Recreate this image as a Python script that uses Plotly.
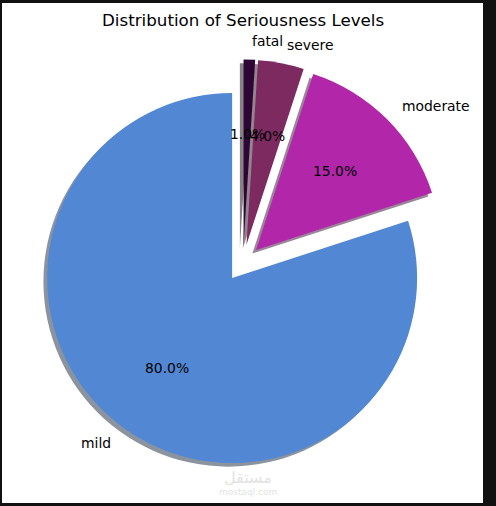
import math
import plotly.graph_objects as go

# ---- data ----
labels = ["mild", "moderate", "severe", "fatal"]
values = [80, 15, 4, 1]
colors = ["#5287d4", "#b226aa", "#7d2a60", "#2e0636"]
explode = [0.1, 0.1, 0.1, 0.1]
title = "Distribution of Seriousness Levels"

# ---- layout geometry (pixels) ----
W, H = 496, 506
CX, CY = 243, 263          # pie centre
R = 185                    # pie radius
SHADOW = 3.7               # shadow offset (left / down)
box = 2 * R * (1 + max(explode))
# first slice starts at 12 o'clock going counter-clockwise (matplotlib startangle=90);
# in ccw mode plotly places the first slice clockwise of `rotation`
ROTATION = 360 - 360 * values[0] / sum(values)


def domain(dx=0.0, dy=0.0):
    return dict(
        x=[(CX + dx - box / 2) / W, (CX + dx + box / 2) / W],
        y=[1 - (CY + dy + box / 2) / H, 1 - (CY + dy - box / 2) / H],
    )


def hex_to_rgb(h):
    h = h.lstrip("#")
    return tuple(int(h[i:i + 2], 16) for i in (0, 2, 4))


shadow_colors = [
    "rgba(%d,%d,%d,0.5)" % tuple(int(c * 0.3) for c in hex_to_rgb(col))
    for col in colors
]

fig = go.Figure()
fig.add_trace(go.Pie(
    labels=labels, values=values, sort=False, direction="counterclockwise",
    rotation=ROTATION, pull=explode, domain=domain(-SHADOW, SHADOW),
    marker=dict(colors=shadow_colors, line=dict(width=0)),
    textinfo="none", hoverinfo="skip", showlegend=False,
))
fig.add_trace(go.Pie(
    labels=labels, values=values, sort=False, direction="counterclockwise",
    rotation=ROTATION, pull=explode, domain=domain(),
    marker=dict(colors=colors, line=dict(width=0)),
    textinfo="none", hoverinfo="label+percent", showlegend=False,
))

FONT = "DejaVu Sans"
annotations = []
total = sum(values)
cum = 0.0
for lab, v, p in zip(labels, values, explode):
    theta = math.radians(90 + 360 * (cum + v / 2) / total)
    cum += v
    ox = CX + p * R * math.cos(theta)
    oy = CY - p * R * math.sin(theta)
    lx = ox + 1.1 * R * math.cos(theta)
    ly = oy - 1.1 * R * math.sin(theta)
    annotations.append(dict(
        x=lx / W, y=1 - ly / H, xref="paper", yref="paper", text=lab,
        showarrow=False, xanchor="left" if lx > CX else "right",
        yanchor="middle", font=dict(family=FONT, size=13.9, color="#000000"),
    ))
    px_ = ox + 0.6 * R * math.cos(theta)
    py_ = oy - 0.6 * R * math.sin(theta)
    annotations.append(dict(
        x=px_ / W, y=1 - py_ / H, xref="paper", yref="paper",
        text="%.1f%%" % (100 * v / total), showarrow=False,
        xanchor="center", yanchor="middle",
        font=dict(family=FONT, size=13.9, color="#000000"),
    ))

annotations.append(dict(
    x=CX / W, y=1 - 20 / H, xref="paper", yref="paper", text=title,
    showarrow=False, xanchor="center", yanchor="middle",
    font=dict(family=FONT, size=16.7, color="#000000"),
))
# faint site watermark
annotations.append(dict(
    x=248 / W, y=1 - 477 / H, xref="paper", yref="paper", text="مستقل",
    showarrow=False, xanchor="center", yanchor="middle",
    font=dict(family=FONT, size=16, color="#e3e3e3"),
))
annotations.append(dict(
    x=248 / W, y=1 - 492 / H, xref="paper", yref="paper", text="mostaql.com",
    showarrow=False, xanchor="center", yanchor="middle",
    font=dict(family=FONT, size=9, color="#e3e3e3"),
))

fig.update_layout(
    width=W, height=H, autosize=False,
    margin=dict(l=0, r=0, t=0, b=0),
    paper_bgcolor="#111111",
    shapes=[dict(type="rect", xref="paper", yref="paper",
                 x0=2 / W, x1=483 / W, y0=3 / H, y1=1 - 3 / H,
                 fillcolor="#ffffff", line=dict(width=0), layer="below")],
    annotations=annotations,
    showlegend=False,
)

fig.write_html(
    "out.html",
    config={"displayModeBar": False},
    post_script="document.body.style.margin='0';"
                "document.body.style.background='#111111';",
)
